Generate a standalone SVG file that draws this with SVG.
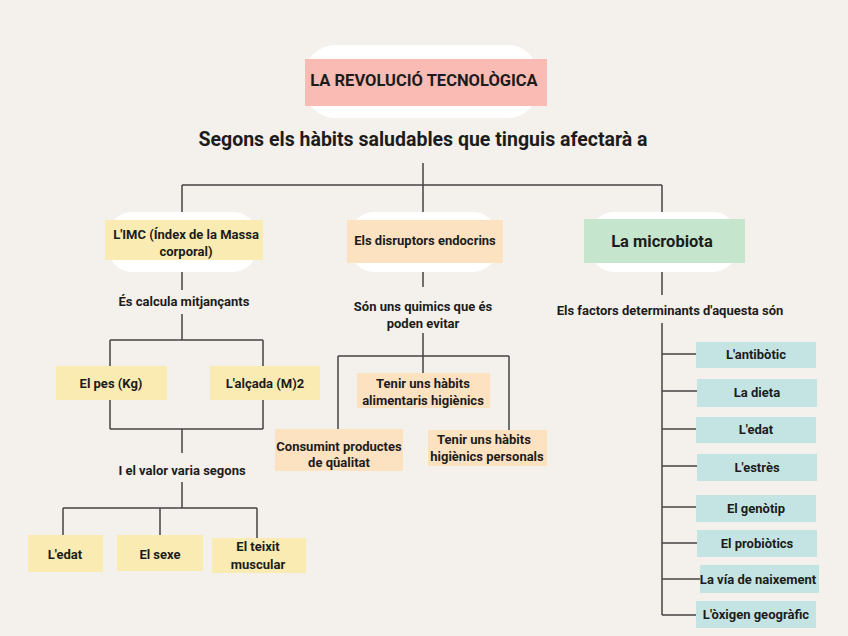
<svg xmlns="http://www.w3.org/2000/svg" width="848" height="636" viewBox="0 0 848 636">
<style>
text{font-family:Roboto,"Liberation Sans",Arial,sans-serif;font-weight:700;fill:#1c1c1c;text-anchor:middle}
.t{font-size:13px}
.s{font-size:13px}
.pill{fill:#ffffff}
.pink{fill:#fbbbb5}
.yel{fill:#f9ebb2}
.org{fill:#fde2c2}
.grn{fill:#c5e6cc}
.blu{fill:#c4e4e3}
#connectors path{fill:none;stroke:#444;stroke-width:1.5}
</style>
<rect width="848" height="636" fill="#f4f0eb"/>

<g id="connectors">
<path d="M423 163V185M182 185H662M182 185V212M423 185V212M662 185V212"/>
<path d="M182 272V290M182 314V340M110 340H263M110 340V366M263 340V366M110 400V429M263 400V429M110 429H263M182 429V453M182 482V508M63 508H257M63 508V535M160 508V535M257 508V538"/>
<path d="M423 272V287M423 333V356M338 356H509M423 356V373M338 356V429M509 356V430"/>
<path d="M662 272V295M662 323V615M662 354H696M662 391H697M662 429H696M662 466H697M662 507H696M662 543H697M662 579H700M662 615H696"/>
</g>

<g id="title">
<rect class="pill" x="305" y="45" width="233" height="73" rx="30"/>
<rect class="pink" x="305" y="59" width="242" height="47"/>
<text x="424" y="86" style="font-size:16.5px">LA REVOLUCIÓ TECNOLÒGICA</text>
</g>

<g id="subtitle">
<text x="423" y="146" style="font-size:19.5px">Segons els hàbits saludables que tinguis afectarà a</text>
</g>

<g id="imc">
<rect class="pill" x="108" y="212" width="149" height="60" rx="24"/>
<rect class="yel" x="105" y="220" width="158" height="40"/>
<text class="t" x="186" y="239">L'IMC (Índex de la Massa</text>
<text class="t" x="186" y="256">corporal)</text>
</g>
<g id="imc-label"><text class="s" x="184" y="306">És calcula mitjançants</text></g>
<g id="pes"><rect class="yel" x="56" y="366" width="111" height="34"/><text class="t" x="111" y="388">El pes (Kg)</text></g>
<g id="alcada"><rect class="yel" x="210" y="366" width="110" height="34"/><text class="t" x="265" y="388">L'alçada (M)2</text></g>
<g id="valor-label"><text class="s" x="182" y="475">I el valor varia segons</text></g>
<g id="edat1"><rect class="yel" x="28" y="535" width="75" height="37"/><text class="t" x="65" y="559">L'edat</text></g>
<g id="sexe"><rect class="yel" x="117" y="535" width="86" height="36"/><text class="t" x="160" y="559">El sexe</text></g>
<g id="teixit"><rect class="yel" x="212" y="538" width="94" height="35"/><text class="t" x="258" y="551">El teixit</text><text class="t" x="258" y="569">muscular</text></g>

<g id="disruptors">
<rect class="pill" x="350" y="212" width="147" height="60" rx="24"/>
<rect class="org" x="347" y="220" width="156" height="43"/>
<text class="t" x="425" y="245">Els disruptors endocrins</text>
</g>
<g id="disr-label"><text class="s" x="423" y="311">Són uns quimics que és</text><text class="s" x="423" y="328">poden evitar</text></g>
<g id="alimentaris"><rect class="org" x="357" y="373" width="133" height="35"/><text class="t" x="423" y="388">Tenir uns hàbits</text><text class="t" x="423" y="405">alimentaris higiènics</text></g>
<g id="consumint"><rect class="org" x="275" y="429" width="128" height="42"/><text class="t" x="339" y="451">Consumint productes</text><text class="t" x="339" y="467">de qûalitat</text></g>
<g id="personals"><rect class="org" x="428" y="430" width="119" height="36"/><text class="t" x="484" y="444">Tenir uns hàbits</text><text class="t" x="487" y="461">higiènics personals</text></g>

<g id="microbiota">
<rect class="pill" x="590" y="212" width="147" height="60" rx="24"/>
<rect class="grn" x="584" y="219" width="161" height="44"/>
<text x="662" y="247" style="font-size:16.5px">La microbiota</text>
</g>
<g id="micro-label"><text class="s" x="670" y="315">Els factors determinants d'aquesta són</text></g>
<g id="antibotic"><rect class="blu" x="696" y="342" width="120" height="26"/><text class="t" x="756" y="359">L'antibòtic</text></g>
<g id="dieta"><rect class="blu" x="697" y="379" width="120" height="28"/><text class="t" x="757" y="397">La dieta</text></g>
<g id="edat2"><rect class="blu" x="696" y="417" width="120" height="26"/><text class="t" x="756" y="434">L'edat</text></g>
<g id="estres"><rect class="blu" x="697" y="454" width="120" height="27"/><text class="t" x="757" y="472">L'estrès</text></g>
<g id="genotip"><rect class="blu" x="696" y="495" width="120" height="27"/><text class="t" x="756" y="513">El genòtip</text></g>
<g id="probiotics"><rect class="blu" x="697" y="530" width="120" height="27"/><text class="t" x="757" y="548">El probiòtics</text></g>
<g id="naixement"><rect class="blu" x="700" y="565" width="119" height="28"/><text class="t" x="758" y="584">La vía de naixement</text></g>
<g id="oxigen"><rect class="blu" x="696" y="601" width="120" height="27"/><text class="t" x="756" y="619">L'òxigen geogràfic</text></g>
</svg>
